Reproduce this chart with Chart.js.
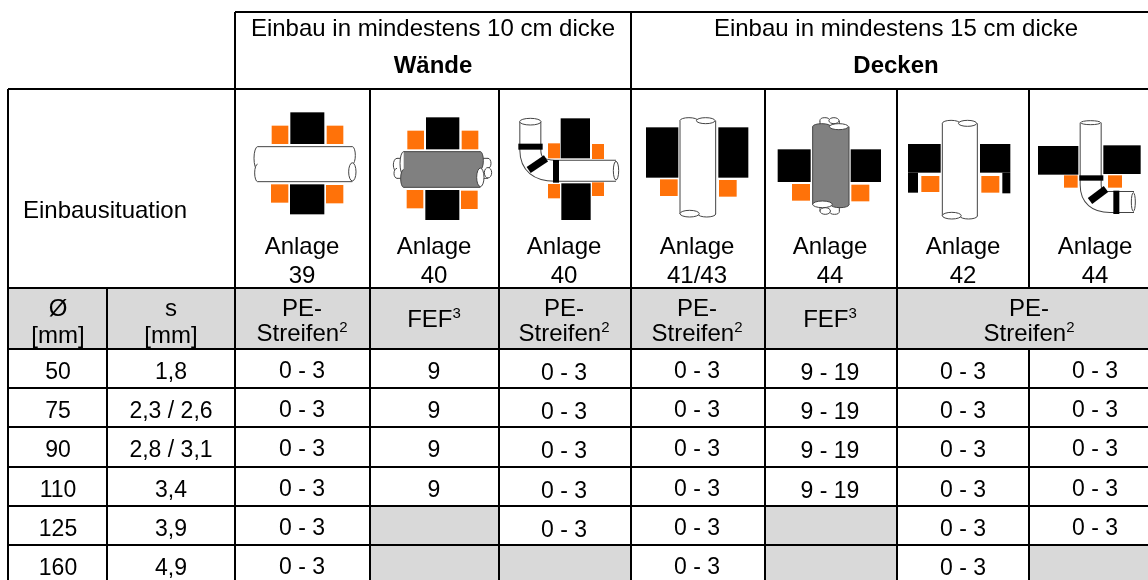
<!DOCTYPE html>
<html>
<head>
<meta charset="utf-8">
<title>Einbausituation</title>
<script src="https://cdn.jsdelivr.net/npm/chart.js@4"></script>
<style>
    html, body { margin: 0; padding: 0; background: #fff; }
    canvas { display: block; }
</style>
</head>
<body>
<canvas id="tableChart" width="1148" height="580"></canvas>
<script>
// table values
const diameters = ['50', '75', '90', '110', '125', '160'];
const walls = ['1,8', '2,3 / 2,6', '2,8 / 3,1', '3,4', '3,9', '4,9'];
const anlagen = ['39', '40', '40', '41/43', '44', '42', '44'];
const col39 = ['0 - 3', '0 - 3', '0 - 3', '0 - 3', '0 - 3', '0 - 3'];
const col40fef = ['9', '9', '9', '9', null, null];
const col40pe = ['0 - 3', '0 - 3', '0 - 3', '0 - 3', '0 - 3', null];
const col4143 = ['0 - 3', '0 - 3', '0 - 3', '0 - 3', '0 - 3', '0 - 3'];
const col44fef = ['9 - 19', '9 - 19', '9 - 19', '9 - 19', null, null];
const col42 = ['0 - 3', '0 - 3', '0 - 3', '0 - 3', '0 - 3', '0 - 3'];
const col44pe = ['0 - 3', '0 - 3', '0 - 3', '0 - 3', '0 - 3', null];
const valueCols = [col39, col40fef, col40pe, col4143, col44fef, col42, col44pe];

// layout of the table, in page pixels
const colEdges = [8, 107, 235, 370, 499, 631, 765, 897, 1029, 1148];
const rowEdges = [12, 89, 288, 349, 388, 427, 467, 506, 545, 584];
const colCenters = [302, 434, 564, 697, 830, 963, 1095];
const colShift = [-1, 0, 1, -1, 1, 0, -1];
const GREY = '#d9d9d9';
const ORANGE = '#ff7209';
const FONT = '"Liberation Sans", Arial, sans-serif';

// grid segments, NaN breaks the line
function gridSegments() {
    const pts = [];
    const seg = (x0, y0, x1, y1) => {
        pts.push({x: x0, y: y0}, {x: x1, y: y1}, {x: NaN, y: NaN});
    };
    seg(colEdges[2], rowEdges[0], 1148, rowEdges[0]);
    rowEdges.slice(1, 9).forEach(y => seg(colEdges[0], y, 1148, y));
    seg(colEdges[0], rowEdges[1], colEdges[0], 580);
    seg(colEdges[1], rowEdges[2], colEdges[1], 580);
    seg(colEdges[2], rowEdges[0], colEdges[2], 580);
    seg(colEdges[3], rowEdges[1], colEdges[3], 580);
    seg(colEdges[4], rowEdges[1], colEdges[4], 580);
    seg(colEdges[5], rowEdges[0], colEdges[5], 580);
    seg(colEdges[6], rowEdges[1], colEdges[6], 580);
    seg(colEdges[7], rowEdges[1], colEdges[7], 580);
    seg(colEdges[8], rowEdges[1], colEdges[8], rowEdges[2]);
    seg(colEdges[8], rowEdges[3], colEdges[8], 580);
    return pts;
}

function cellShape(x0, y0, x1, y1) {
    return {
        type: 'scatter',
        showLine: true,
        fill: 'shape',
        backgroundColor: GREY,
        borderWidth: 0,
        pointRadius: 0,
        data: [{x: x0, y: y0}, {x: x1, y: y0}, {x: x1, y: y1}, {x: x0, y: y1}, {x: x0, y: y0}]
    };
}

// first dataset is painted last, so the grid goes on top of the grey cells
const datasets = [{
    type: 'scatter',
    showLine: true,
    spanGaps: false,
    borderColor: '#000',
    borderWidth: 2,
    pointRadius: 0,
    data: gridSegments()
}];
datasets.push(cellShape(colEdges[0], rowEdges[2], 1148, rowEdges[3]));
valueCols.forEach((col, c) => {
    col.forEach((v, r) => {
        if (v === null) {
            datasets.push(cellShape(colEdges[c + 2], rowEdges[r + 3], colEdges[c + 3], rowEdges[r + 4]));
        }
    });
});

const tablePlugin = {
    id: 'tablePlugin',
    afterDatasetsDraw(chart) {
        const ctx = chart.ctx;
        const sx = chart.scales.x;
        const sy = chart.scales.y;

        function text(str, x, y, size, bold) {
            ctx.font = (bold ? 'bold ' : '') + size + 'px ' + FONT;
            ctx.fillStyle = '#000';
            ctx.textAlign = 'center';
            ctx.textBaseline = 'middle';
            ctx.fillText(str, sx.getPixelForValue(x), sy.getPixelForValue(y));
        }

        // text with a superscript after it
        function supText(str, sup, x, y, size) {
            const supSize = Math.round(size * 0.62);
            ctx.font = size + 'px ' + FONT;
            const w = ctx.measureText(str).width;
            ctx.font = supSize + 'px ' + FONT;
            const w2 = ctx.measureText(sup).width;
            const left = x - (w + w2) / 2;
            ctx.textAlign = 'left';
            ctx.textBaseline = 'middle';
            ctx.fillStyle = '#000';
            ctx.font = size + 'px ' + FONT;
            ctx.fillText(str, sx.getPixelForValue(left), sy.getPixelForValue(y));
            ctx.font = supSize + 'px ' + FONT;
            ctx.fillText(sup, sx.getPixelForValue(left + w), sy.getPixelForValue(y - 6));
        }

        const size = 24;
        const small = 23;
        text('Einbau in mindestens 10 cm dicke', 433, 29, size);
        text('Wände', 433, 66, size, true);
        text('Einbau in mindestens 15 cm dicke', 896, 29, size);
        text('Decken', 896, 66, size, true);
        text('Einbausituation', 105, 211, size);

        anlagen.forEach((a, i) => {
            text('Anlage', colCenters[i], 247, size);
            text(a, colCenters[i], 276, size);
        });

        text('Ø', 58, 309, size);
        text('[mm]', 58, 336, size);
        text('s', 171, 309, size);
        text('[mm]', 171, 336, size);

        function peHead(x) {
            text('PE-', x, 309, size);
            supText('Streifen', '2', x, 334, size);
        }
        peHead(colCenters[0]);
        supText('FEF', '3', colCenters[1], 320, size);
        peHead(colCenters[2]);
        peHead(colCenters[3]);
        supText('FEF', '3', colCenters[4], 320, size);
        peHead(1029);

        diameters.forEach((d, r) => {
            const y = (rowEdges[r + 3] + rowEdges[r + 4]) / 2 + 4;
            text(d, 58, y, small);
            text(walls[r], 171, y, small);
            valueCols.forEach((col, c) => {
                if (col[r] !== null) text(col[r], colCenters[c], y + colShift[c], small);
            });
        });

        drawIcons(ctx, sx, sy);
    }
};

// the little installation sketches, coordinates are 3x from their origin
function drawIcons(ctx, sx, sy) {
    let ox = 230, oy = 90;
    const X = v => sx.getPixelForValue(ox + v / 3);
    const Y = v => sy.getPixelForValue(oy + v / 3);

    function box(x0, y0, x1, y1, color) {
        ctx.fillStyle = color;
        ctx.fillRect(X(x0), Y(y0), X(x1) - X(x0), Y(y1) - Y(y0));
    }

    function blob(cx, cy, rx, ry, color) {
        ctx.beginPath();
        ctx.ellipse(X(cx), Y(cy), rx / 3, ry / 3, 0, 0, Math.PI * 2);
        ctx.fillStyle = color;
        ctx.fill();
        ctx.stroke();
    }

    function pipeH(x0, x1, y0, y1, color) {
        const h = y1 - y0;
        ctx.strokeStyle = '#444';
        ctx.lineWidth = 1;
        blob(x0 + 11, y0 + h * 0.33, 11, h * 0.33, '#fff');
        blob(x0 + 11, y0 + h * 0.75, 9, h * 0.25, color);
        blob(x1 - 11, y0 + h * 0.25, 9, h * 0.25, color);
        ctx.fillStyle = color;
        ctx.fillRect(X(x0 + 11), Y(y0), X(x1 - 11) - X(x0 + 11), Y(y1) - Y(y0));
        ctx.beginPath();
        ctx.moveTo(X(x0 + 11), Y(y0));
        ctx.lineTo(X(x1 - 11), Y(y0));
        ctx.moveTo(X(x0 + 11), Y(y1));
        ctx.lineTo(X(x1 - 11), Y(y1));
        ctx.stroke();
        blob(x1 - 11, y0 + h * 0.72, 11, h * 0.26, '#fff');
    }

    function pipeV(x0, x1, y0, y1, color) {
        const w = x1 - x0;
        ctx.strokeStyle = '#444';
        ctx.lineWidth = 1;
        blob(x0 + w * 0.25, y0 + 10, w * 0.25, 9, color);
        blob(x0 + w * 0.75, y1 - 10, w * 0.25, 9, color);
        ctx.fillStyle = color;
        ctx.fillRect(X(x0), Y(y0 + 10), X(x1) - X(x0), Y(y1 - 10) - Y(y0 + 10));
        ctx.beginPath();
        ctx.moveTo(X(x0), Y(y0 + 10));
        ctx.lineTo(X(x0), Y(y1 - 10));
        ctx.moveTo(X(x1), Y(y0 + 10));
        ctx.lineTo(X(x1), Y(y1 - 10));
        ctx.stroke();
        blob(x0 + w * 0.72, y0 + 10, w * 0.26, 9, '#fff');
        blob(x0 + w * 0.27, y1 - 11, w * 0.27, 10, '#fff');
    }

    function elbow(pts, width) {
        const trace = () => {
            ctx.beginPath();
            ctx.moveTo(X(pts[0]), Y(pts[1]));
            ctx.lineTo(X(pts[2]), Y(pts[3]));
            ctx.quadraticCurveTo(X(pts[4]), Y(pts[5]), X(pts[6]), Y(pts[7]));
            ctx.lineTo(X(pts[8]), Y(pts[9]));
        };
        ctx.lineCap = 'butt';
        trace();
        ctx.strokeStyle = '#444';
        ctx.lineWidth = width / 3 + 2;
        ctx.stroke();
        trace();
        ctx.strokeStyle = '#fff';
        ctx.lineWidth = width / 3;
        ctx.stroke();
    }

    function band(x0, y0, x1, y1, width) {
        ctx.beginPath();
        ctx.moveTo(X(x0), Y(y0));
        ctx.lineTo(X(x1), Y(y1));
        ctx.strokeStyle = '#000';
        ctx.lineWidth = width / 3;
        ctx.stroke();
    }

    // walls
    box(181, 67, 283, 162, '#000');
    box(125, 107, 175, 162, ORANGE);
    box(290, 107, 340, 162, ORANGE);
    box(180, 283, 283, 373, '#000');
    box(123, 283, 175, 338, ORANGE);
    box(288, 285, 340, 340, ORANGE);
    pipeH(72, 378, 170, 275, '#fff');

    box(588, 82, 688, 178, '#000');
    box(532, 122, 582, 178, ORANGE);
    box(695, 122, 745, 178, ORANGE);
    box(586, 300, 688, 390, '#000');
    box(530, 300, 580, 355, ORANGE);
    box(693, 302, 743, 357, ORANGE);
    pipeH(490, 785, 205, 265, '#fff');
    pipeH(510, 762, 185, 292, '#808080');

    box(992, 85, 1080, 205, '#000');
    box(954, 160, 990, 205, ORANGE);
    box(1086, 162, 1122, 207, ORANGE);
    box(994, 280, 1082, 390, '#000');
    box(954, 282, 990, 325, ORANGE);
    box(1086, 277, 1122, 318, ORANGE);
    elbow([901, 95, 901, 180, 901, 242, 975, 242, 1158, 242], 60);
    ctx.strokeStyle = '#444';
    ctx.lineWidth = 1;
    blob(901, 95, 32, 10, '#fff');
    blob(1158, 242, 8, 28, '#fff');
    band(865, 170, 938, 170, 18);
    band(896, 240, 948, 205, 22);
    band(978, 210, 978, 278, 18);

    // ceilings
    ox = 630;
    box(48, 112, 145, 263, '#000');
    box(265, 112, 355, 263, '#000');
    box(90, 268, 143, 318, ORANGE);
    box(267, 270, 320, 320, ORANGE);
    pipeV(150, 257, 82, 382, '#fff');

    box(443, 178, 542, 276, '#000');
    box(662, 178, 753, 276, '#000');
    box(486, 282, 540, 332, ORANGE);
    box(664, 284, 718, 334, ORANGE);
    pipeV(570, 628, 82, 374, '#fff');
    pipeV(548, 657, 100, 354, '#808080');

    box(834, 162, 932, 248, '#000');
    box(834, 248, 864, 308, '#000');
    box(1050, 162, 1141, 248, '#000');
    box(1117, 248, 1141, 310, '#000');
    box(874, 258, 928, 306, ORANGE);
    box(1054, 258, 1108, 308, ORANGE);
    pipeV(937, 1042, 90, 388, '#fff');

    box(1224, 168, 1345, 254, '#000');
    box(1420, 166, 1532, 252, '#000');
    box(1302, 256, 1343, 293, ORANGE);
    box(1434, 256, 1476, 293, ORANGE);
    elbow([1382, 98, 1382, 285, 1382, 336, 1440, 336, 1512, 336], 60);
    ctx.strokeStyle = '#444';
    ctx.lineWidth = 1;
    blob(1382, 98, 30, 6, '#fff');
    blob(1510, 336, 6, 28, '#fff');
    band(1348, 264, 1420, 264, 16);
    band(1380, 333, 1428, 297, 22);
    band(1459, 302, 1459, 372, 18);
}

new Chart(document.getElementById('tableChart').getContext('2d'), {
    type: 'scatter',
    data: { datasets: datasets },
    options: {
        responsive: false,
        animation: false,
        layout: { padding: 0 },
        plugins: {
            legend: { display: false },
            tooltip: { enabled: false }
        },
        scales: {
            x: { type: 'linear', display: false, min: 0, max: 1148 },
            y: { type: 'linear', display: false, min: 0, max: 580, reverse: true }
        }
    },
    plugins: [tablePlugin]
});
</script>
</body>
</html>
